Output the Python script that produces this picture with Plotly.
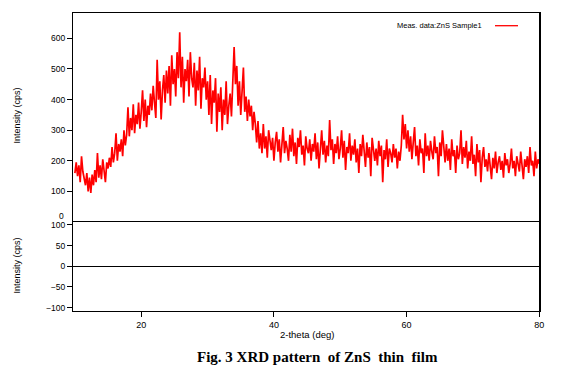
import plotly.graph_objects as go

# ---- data ----
two_theta_start = 10.0
two_theta_step = 0.2
intensity = [
    160, 195, 150, 185, 130, 215, 165, 140, 120, 160,
    100, 145, 95, 155, 120, 170, 130, 225, 145, 185,
    140, 205, 160, 130, 195, 175, 210, 180, 245, 195,
    225, 290, 200, 255, 230, 270, 215, 300, 250, 285,
    375, 280, 340, 300, 385, 290, 350, 320, 390, 305,
    360, 430, 330, 400, 310, 380, 350, 420, 365, 445,
    390, 340, 530, 400, 460, 335, 430, 480, 390, 495,
    420, 510, 380, 545, 450, 500, 410, 555, 470, 620,
    440, 540, 390, 500, 460, 530, 410, 555, 470, 440,
    520, 380, 495, 430, 540, 370, 470, 440, 505, 400,
    460, 350, 480, 320, 430, 390, 470, 295, 420, 360,
    440, 300, 400, 350, 460, 320, 380, 420, 345, 480,
    572, 450, 510, 380, 460, 350, 420, 505, 360, 410,
    330, 400, 345, 380, 300, 360, 320, 260, 330, 240,
    290, 225, 320, 240, 280, 210, 300, 255, 235, 275,
    200, 260, 295, 230, 270, 195, 250, 310, 225, 265,
    240, 200, 285, 230, 305, 215, 260, 190, 275, 245,
    300, 220, 250, 185, 280, 240, 225, 270, 200, 255,
    230, 290, 205, 260, 175, 245, 300, 220, 265, 195,
    250, 215, 333, 235, 270, 190, 255, 225, 280, 205,
    240, 300, 210, 265, 170, 245, 225, 290, 200, 250,
    220, 270, 195, 240, 160, 255, 215, 285, 230, 180,
    260, 210, 245, 150, 275, 225, 200, 240, 185, 265,
    215, 250, 130, 235, 205, 270, 180, 240, 225, 195,
    255, 210, 240, 175, 230, 200, 250, 350, 270, 320,
    240, 300, 230, 280, 205, 260, 310, 215, 250, 185,
    270, 225, 240, 160, 290, 215, 250, 200, 265, 230,
    205, 280, 225, 245, 150, 260, 215, 300, 230, 195,
    255, 200, 240, 170, 270, 215, 235, 160, 250, 205,
    225, 300, 190, 245, 210, 265, 175, 230, 200, 280,
    190, 220, 150, 255, 195, 235, 130, 210, 245, 180,
    205, 165, 225, 185, 140, 210, 175, 230, 160, 195,
    215, 170, 200, 145, 225, 185, 205, 160, 190, 240,
    175, 200, 150, 215, 185, 165, 230, 190, 140, 205,
    180, 215, 160, 245, 185, 200, 150, 230, 175, 205,
    190,
]
two_theta = [round(two_theta_start + two_theta_step * i, 2) for i in range(len(intensity))]

x_ticks = [20, 40, 60, 80]
top_y_ticks = [100, 200, 300, 400, 500, 600]
bottom_y_ticks = [-100, -50, 0, 50, 100]
series_name = "Meas. data:ZnS Sample1"
caption = "Fig. 3 XRD pattern  of ZnS  thin  film"

W, H = 561, 373
def px(x):
    return x / W
def py(y):
    return 1 - y / H

fig = go.Figure()
fig.add_trace(go.Scatter(x=two_theta, y=intensity, mode="lines", name=series_name,
                         line=dict(color="#FF0000", width=1.7), xaxis="x2", yaxis="y",
                         showlegend=False))
# empty trace so the lower (difference) panel is created
fig.add_trace(go.Scatter(x=[], y=[], mode="lines", xaxis="x", yaxis="y2",
                         showlegend=False, hoverinfo="skip"))

sans = "Liberation Sans, Arial, sans-serif"
line_style = dict(linecolor="black", linewidth=1.3, showgrid=False, zeroline=False,
                  automargin=False)

fig.update_layout(
    width=W, height=H,
    margin=dict(l=0, r=0, t=0, b=0, autoexpand=False),
    paper_bgcolor="white", plot_bgcolor="white",
    font=dict(family=sans, size=9, color="black"),
    xaxis=dict(domain=[px(73.3), px(539.3)], range=[9.76, 80], anchor="y2",
               tickvals=x_ticks, ticks="outside", ticklen=5, tickcolor="black",
               tickfont=dict(size=9), showline=True, mirror=True, **line_style),
    xaxis2=dict(domain=[px(73.3), px(539.3)], range=[9.76, 80], anchor="y",
                side="top", showticklabels=False, ticks="", showline=True, mirror=False,
                **line_style),
    yaxis=dict(domain=[py(222), py(13.3)], range=[0, 682], anchor="x2",
               tickvals=top_y_ticks, ticks="outside", ticklen=5, tickcolor="black",
               tickfont=dict(size=8.5), showline=True, mirror=True, **line_style),
    yaxis2=dict(domain=[py(311), py(222)], range=[-108, 107], anchor="x",
                tickvals=bottom_y_ticks, ticks="outside", ticklen=5, tickcolor="black",
                tickfont=dict(size=8.5), showline=True, linecolor="black", linewidth=1.3,
                mirror=True, showgrid=False, zeroline=True, zerolinecolor="black",
                zerolinewidth=1.3, automargin=False),
)

ann = []
ann.append(dict(text="0", x=px(66), y=py(215.5), xref="paper", yref="paper",
                xanchor="right", yanchor="middle", showarrow=False, font=dict(size=8.5)))
ann.append(dict(text="Intensity (cps)", x=px(16.5), y=py(116), xref="paper", yref="paper",
                textangle=-90, xanchor="center", yanchor="middle", showarrow=False,
                font=dict(size=9)))
ann.append(dict(text="Intensity (cps)", x=px(16.5), y=py(266), xref="paper", yref="paper",
                textangle=-90, xanchor="center", yanchor="middle", showarrow=False,
                font=dict(size=9)))
ann.append(dict(text="2-theta (deg)", x=px(306.5), y=py(334), xref="paper", yref="paper",
                xanchor="center", yanchor="middle", showarrow=False, font=dict(size=9.5)))
ann.append(dict(text="<b>" + caption.replace("  ", "&nbsp; ") + "</b>", x=px(317),
                y=py(356.5), xref="paper", yref="paper", xanchor="center",
                yanchor="middle", showarrow=False,
                font=dict(family="Liberation Serif, Times New Roman, serif", size=15)))
ann.append(dict(text=series_name, x=px(484), y=py(25.7), xref="paper", yref="paper",
                xanchor="right", yanchor="middle", showarrow=False, font=dict(size=7.5)))
fig.update_layout(annotations=ann)
fig.add_shape(type="line", xref="paper", yref="paper", x0=px(495), x1=px(518),
              y0=py(25.7), y1=py(25.7), line=dict(color="#FF0000", width=1.3))

fig.write_html("out.html", config={"displayModeBar": False, "staticPlot": True},
               post_script="document.body.style.margin='0';document.body.style.padding='0';")
